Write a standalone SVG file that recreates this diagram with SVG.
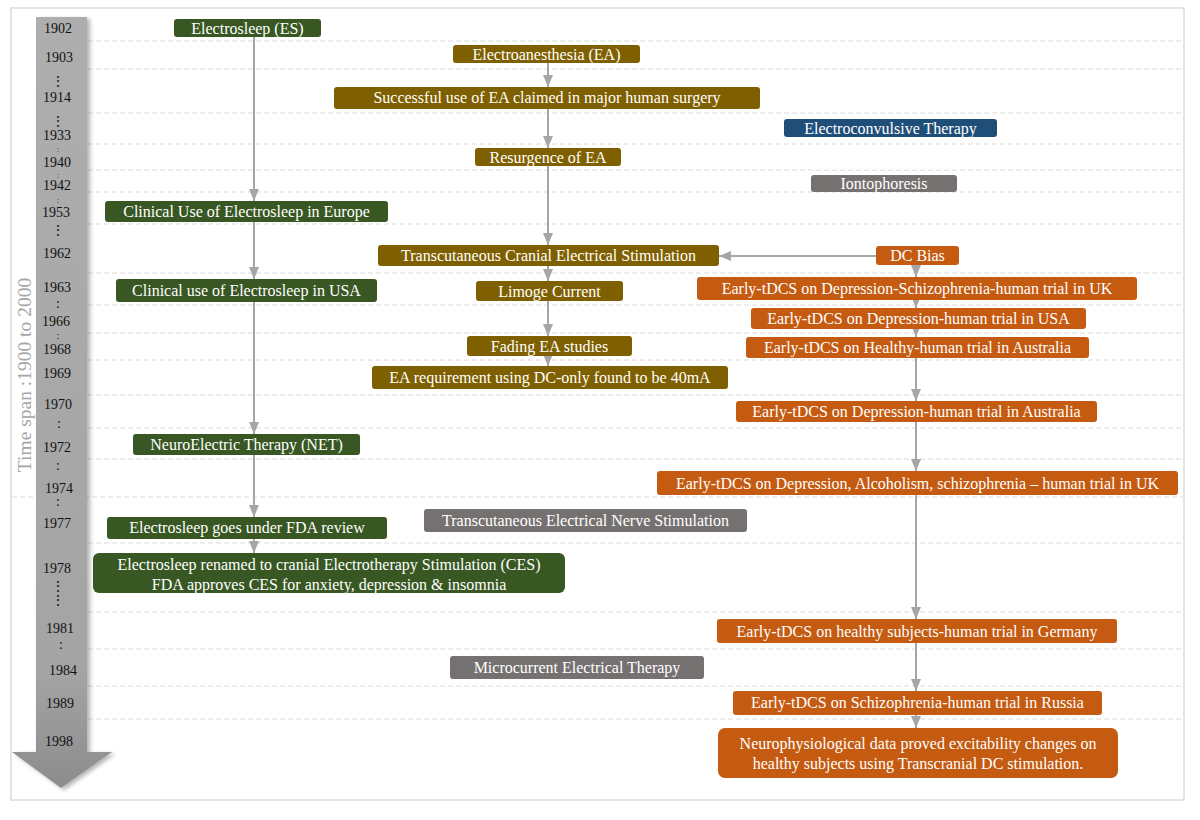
<svg xmlns="http://www.w3.org/2000/svg" width="1200" height="820" viewBox="0 0 1200 820">
<style>
.g{fill:#385723}.o{fill:#7f6000}.b{fill:#1f4e79}.gr{fill:#767171}.r{fill:#c55a11}
.t{font-family:"Liberation Serif","Times New Roman",serif;font-size:16px;fill:#ffffff;text-anchor:middle}
.yr{font-family:"Liberation Serif","Times New Roman",serif;font-size:14px;fill:#111111;text-anchor:middle}
.sm{font-family:"Liberation Serif","Times New Roman",serif;font-size:11px;fill:#111111;text-anchor:middle}
.xs{font-family:"Liberation Serif","Times New Roman",serif;font-size:8px;fill:#111111;text-anchor:middle}
.dt{font-family:"DejaVu Serif","Liberation Serif",serif;font-size:14px;fill:#111111;text-anchor:middle}
.grid{stroke:#dadada;stroke-dasharray:5 3;stroke-width:1}
.conn{stroke:#a6a6a6;stroke-width:2;fill:none;marker-end:url(#ah)}
</style>
<defs>
<marker id="ah" markerUnits="userSpaceOnUse" markerWidth="12" markerHeight="10" viewBox="0 0 12 10" refX="12" refY="5" orient="auto">
<path d="M0,0 L12,5 L0,10 z" fill="#a6a6a6"/>
</marker>
<linearGradient id="tl" x1="0" y1="0" x2="0" y2="1">
<stop offset="0" stop-color="#aeaeae"/>
<stop offset="0.85" stop-color="#a4a4a4"/>
<stop offset="1" stop-color="#8c8c8c"/>
</linearGradient>
<filter id="sh" x="-20%" y="-5%" width="150%" height="115%">
<feDropShadow dx="3" dy="2" stdDeviation="2" flood-color="#000" flood-opacity="0.3"/>
</filter>
</defs>
<rect x="0" y="0" width="1200" height="820" fill="#ffffff"/>
<rect x="11" y="8" width="1173" height="792" fill="none" stroke="#dcdcdc" stroke-width="1.5"/>

<g id="grid">
<line class="grid" x1="88" y1="41" x2="1183" y2="41"/>
<line class="grid" x1="88" y1="69" x2="1183" y2="69"/>
<line class="grid" x1="88" y1="113" x2="1183" y2="113"/>
<line class="grid" x1="88" y1="144" x2="1183" y2="144"/>
<line class="grid" x1="88" y1="170" x2="1183" y2="170"/>
<line class="grid" x1="88" y1="192" x2="1183" y2="192"/>
<line class="grid" x1="88" y1="224" x2="1183" y2="224"/>
<line class="grid" x1="88" y1="273" x2="1183" y2="273"/>
<line class="grid" x1="88" y1="305" x2="1183" y2="305"/>
<line class="grid" x1="88" y1="333" x2="1183" y2="333"/>
<line class="grid" x1="88" y1="360" x2="1183" y2="360"/>
<line class="grid" x1="88" y1="395" x2="1183" y2="395"/>
<line class="grid" x1="88" y1="428" x2="1183" y2="428"/>
<line class="grid" x1="88" y1="459" x2="1183" y2="459"/>
<line class="grid" x1="12" y1="497" x2="1183" y2="497"/>
<line class="grid" x1="88" y1="543" x2="1183" y2="543"/>
<line class="grid" x1="88" y1="612" x2="1183" y2="612"/>
<line class="grid" x1="88" y1="649" x2="1183" y2="649"/>
<line class="grid" x1="88" y1="686" x2="1183" y2="686"/>
<line class="grid" x1="88" y1="719" x2="1183" y2="719"/>
</g>

<g id="timeline">
<path d="M36,17 L87,17 L87,752 L112,752 L61,788 L12,752 L36,752 Z" fill="url(#tl)" filter="url(#sh)"/>
<text x="24" y="375" transform="rotate(-90 24 375)" font-family="Liberation Serif, Times New Roman, serif" font-size="19.5" fill="#a6a6a6" text-anchor="middle" dominant-baseline="central">Time span :1900 to 2000</text>
<text class="yr" x="58" y="33">1902</text>
<text class="yr" x="59" y="62">1903</text>
<text class="dt" x="58" y="86">⋮</text>
<text class="yr" x="57" y="102">1914</text>
<text class="dt" x="58" y="126">⋮</text>
<text class="yr" x="57" y="140">1933</text>
<text class="xs" x="58" y="152">:</text>
<text class="yr" x="57" y="167">1940</text>
<text class="xs" x="58" y="178">:</text>
<text class="yr" x="57" y="190">1942</text>
<text class="xs" x="58" y="203">:</text>
<text class="yr" x="56" y="217">1953</text>
<text class="dt" x="58" y="235">⋮</text>
<text class="yr" x="57" y="258">1962</text>
<text class="yr" x="57" y="292">1963</text>
<text class="yr" x="58" y="308">:</text>
<text class="yr" x="56" y="326">1966</text>
<text class="sm" x="58" y="339">:</text>
<text class="yr" x="57" y="354">1968</text>
<text class="yr" x="57" y="378">1969</text>
<text class="yr" x="58" y="409">1970</text>
<text class="yr" x="59" y="428">:</text>
<text class="yr" x="57" y="452">1972</text>
<text class="yr" x="58" y="470">:</text>
<text class="yr" x="59" y="493">1974</text>
<text class="yr" x="58" y="506">:</text>
<text class="yr" x="57" y="528">1977</text>
<text class="yr" x="57" y="573">1978</text>
<text class="dt" x="58" y="591">⋮</text>
<text class="dt" x="58" y="605">⋮</text>
<text class="yr" x="60" y="633">1981</text>
<text class="yr" x="61" y="649">:</text>
<text class="yr" x="63" y="675">1984</text>
<text class="yr" x="60" y="708">1989</text>
<text class="yr" x="59" y="746">1998</text>
</g>

<g id="connectors">
<line class="conn" x1="254" y1="37" x2="254" y2="201"/>
<line class="conn" x1="254" y1="222" x2="254" y2="279"/>
<line class="conn" x1="254" y1="302" x2="254" y2="434"/>
<line class="conn" x1="254" y1="455" x2="254" y2="517"/>
<line class="conn" x1="254" y1="539" x2="254" y2="553"/>
<line class="conn" x1="548" y1="63" x2="548" y2="87"/>
<line class="conn" x1="548" y1="109" x2="548" y2="148"/>
<line class="conn" x1="548" y1="166" x2="548" y2="245"/>
<line class="conn" x1="548" y1="266" x2="548" y2="281"/>
<line class="conn" x1="548" y1="301" x2="548" y2="336"/>
<line class="conn" x1="548" y1="356" x2="548" y2="366"/>
<line class="conn" x1="876" y1="256" x2="719" y2="256"/>
<line class="conn" x1="916" y1="265" x2="916" y2="277"/>
<line class="conn" x1="916" y1="300" x2="916" y2="308"/>
<line class="conn" x1="916" y1="329" x2="916" y2="337"/>
<line class="conn" x1="916" y1="358" x2="916" y2="401"/>
<line class="conn" x1="916" y1="422" x2="916" y2="471"/>
<line class="conn" x1="916" y1="495" x2="916" y2="619"/>
<line class="conn" x1="916" y1="643" x2="916" y2="691"/>
<line class="conn" x1="916" y1="715" x2="916" y2="728"/>
</g>

<g id="n-es"><rect class="g" x="174" y="19" width="147" height="18" rx="3"/><text class="t" x="247.5" y="34">Electrosleep (ES)</text></g>
<g id="n-europe"><rect class="g" x="105" y="201" width="283" height="21" rx="3"/><text class="t" x="246.5" y="217">Clinical Use of Electrosleep in Europe</text></g>
<g id="n-usa"><rect class="g" x="116" y="279" width="261" height="23" rx="3"/><text class="t" x="246.5" y="296">Clinical use of Electrosleep in USA</text></g>
<g id="n-net"><rect class="g" x="133" y="434" width="227" height="21" rx="3"/><text class="t" x="246.5" y="450">NeuroElectric Therapy (NET)</text></g>
<g id="n-fda"><rect class="g" x="107" y="517" width="280" height="22" rx="3"/><text class="t" x="247" y="533">Electrosleep goes under FDA review</text></g>
<g id="n-ces"><rect class="g" x="93" y="553" width="472" height="40" rx="6"/><text class="t" x="329" y="570">Electrosleep renamed to cranial Electrotherapy Stimulation (CES)</text><text class="t" x="329" y="590">FDA approves CES for anxiety, depression &amp; insomnia</text></g>

<g id="n-ea"><rect class="o" x="453" y="45" width="187" height="18" rx="3"/><text class="t" x="546.5" y="60">Electroanesthesia (EA)</text></g>
<g id="n-surgery"><rect class="o" x="334" y="87" width="426" height="22" rx="3"/><text class="t" x="547" y="103">Successful use of EA claimed in major human surgery</text></g>
<g id="n-resurgence"><rect class="o" x="475" y="148" width="146" height="18" rx="3"/><text class="t" x="548" y="163">Resurgence of EA</text></g>
<g id="n-tces"><rect class="o" x="378" y="245" width="341" height="21" rx="3"/><text class="t" x="548.5" y="261">Transcutaneous Cranial Electrical Stimulation</text></g>
<g id="n-limoge"><rect class="o" x="476" y="281" width="147" height="20" rx="3"/><text class="t" x="549.5" y="297">Limoge Current</text></g>
<g id="n-fading"><rect class="o" x="467" y="336" width="165" height="20" rx="3"/><text class="t" x="549.5" y="352">Fading EA studies</text></g>
<g id="n-40ma"><rect class="o" x="372" y="366" width="356" height="23" rx="3"/><text class="t" x="550" y="383">EA requirement using DC-only found to be 40mA</text></g>

<g id="n-ect"><rect class="b" x="784" y="119" width="213" height="18" rx="3"/><text class="t" x="890.5" y="134">Electroconvulsive Therapy</text></g>
<g id="n-ionto"><rect class="gr" x="811" y="175" width="146" height="17" rx="3"/><text class="t" x="884" y="189">Iontophoresis</text></g>
<g id="n-tens"><rect class="gr" x="424" y="509" width="323" height="23" rx="3"/><text class="t" x="585.5" y="526">Transcutaneous Electrical Nerve Stimulation</text></g>
<g id="n-met"><rect class="gr" x="450" y="656" width="254" height="23" rx="3"/><text class="t" x="577" y="673">Microcurrent Electrical Therapy</text></g>

<g id="n-dcbias"><rect class="r" x="876" y="246" width="83" height="19" rx="3"/><text class="t" x="917.5" y="261">DC Bias</text></g>
<g id="n-uk1"><rect class="r" x="697" y="277" width="440" height="23" rx="3"/><text class="t" x="917" y="294">Early-tDCS on Depression-Schizophrenia-human trial in UK</text></g>
<g id="n-usa2"><rect class="r" x="751" y="308" width="335" height="21" rx="3"/><text class="t" x="918.5" y="324">Early-tDCS on Depression-human trial in USA</text></g>
<g id="n-aus1"><rect class="r" x="746" y="337" width="343" height="21" rx="3"/><text class="t" x="917.5" y="353">Early-tDCS on Healthy-human trial in Australia</text></g>
<g id="n-aus2"><rect class="r" x="736" y="401" width="361" height="21" rx="3"/><text class="t" x="916.5" y="417">Early-tDCS on Depression-human trial in Australia</text></g>
<g id="n-uk2"><rect class="r" x="657" y="471" width="521" height="24" rx="3"/><text class="t" x="917.5" y="489">Early-tDCS on Depression, Alcoholism, schizophrenia – human trial in UK</text></g>
<g id="n-germany"><rect class="r" x="717" y="619" width="400" height="24" rx="3"/><text class="t" x="917" y="637">Early-tDCS on healthy subjects-human trial in Germany</text></g>
<g id="n-russia"><rect class="r" x="733" y="691" width="369" height="24" rx="3"/><text class="t" x="917.5" y="708">Early-tDCS on Schizophrenia-human trial in Russia</text></g>
<g id="n-neuro"><rect class="r" x="718" y="728" width="400" height="50" rx="7"/><text class="t" x="918" y="749">Neurophysiological data proved excitability changes on</text><text class="t" x="918" y="769">healthy subjects using Transcranial DC stimulation.</text></g>
</svg>
